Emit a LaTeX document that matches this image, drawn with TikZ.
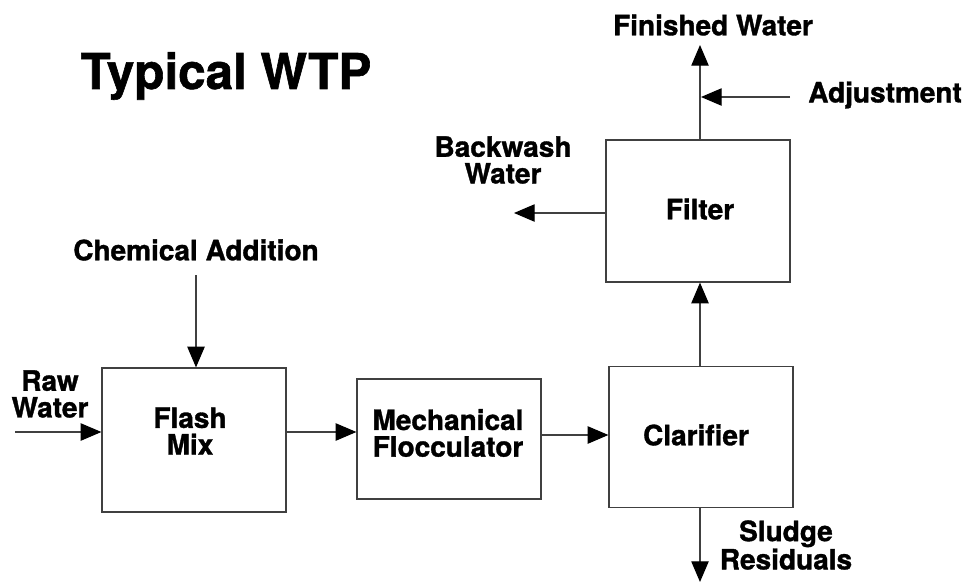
\documentclass[tikz,border=0pt]{standalone}
\usepackage{fontspec}
\setmainfont{TeX Gyre Heros}[BoldFeatures={FakeBold=1.2}]
\usetikzlibrary{arrows.meta}
\begin{document}
\begin{tikzpicture}[x=0.75pt,y=-0.75pt,
  box/.style={draw=black!75, line width=0.9pt, minimum width=184*0.75pt, inner sep=0pt},
  lbl/.style={font=\fontsize{21}{20}\selectfont\bfseries, align=center, inner sep=0pt},
  flow/.style={draw=black!75, line width=0.9pt, -{Triangle[length=15.5pt,width=13pt,color=black,fill=black]}}]
\useasboundingbox (0,0) rectangle (964,586);
\node[lbl, font=\fontsize{37}{40}\selectfont\bfseries] (title) at (226,76) {Typical WTP};

\node[box, minimum height=142*0.75pt] (filter) at (698,211) {};
\node[lbl] (filterl) at (700,209) {Filter};
\node[box, minimum height=144*0.75pt] (flash) at (194,440) {};
\node[lbl] (flashl) at (190,431) {Flash\\Mix};
\node[box, minimum height=120*0.75pt] (floc) at (449,439) {};
\node[lbl] (flocl) at (448,433) {Mechanical\\Flocculator};
\node[box, minimum height=141*0.75pt] (clar) at (701,437) {};
\node[lbl] (clarl) at (696,435) {Clarifier};

\node[lbl] (fin) at (713,25) {Finished Water};
\node[lbl, anchor=west] (adj) at (808,95) {Adjustment};
\node[lbl] (back) at (503,160) {Backwash\\Water};
\node[lbl] (chem) at (196,250) {Chemical Addition};
\node[lbl] (raw) at (50,394) {Raw\\Water};
\node[lbl] (sludge) at (786,545) {Sludge\\Residuals};

\coordinate (finend) at (700,45);
\coordinate (adjs) at (790,97);
\coordinate (adje) at (701,97);
\coordinate (backend) at (514,213);
\coordinate (chems) at (196,275);
\coordinate (raws) at (15,432);
\coordinate (sludgeend) at (700,582);

\draw[flow] (filter.north -| finend) -- (finend);
\draw[flow] (adjs) -- (adje);
\draw[flow] (filter.west |- backend) -- (backend);
\draw[flow] (chems) -- (chems |- flash.north);
\draw[flow] (raws) -- (raws -| flash.west);
\draw[flow] (flash.east |- 0,432) -- (floc.west |- 0,432);
\draw[flow] (floc.east |- 0,435) -- (clar.west |- 0,435);
\draw[flow] (clar.north -| finend) -- (filter.south -| finend);
\draw[flow] (clar.south -| finend) -- (sludgeend);
\end{tikzpicture}
\end{document}
